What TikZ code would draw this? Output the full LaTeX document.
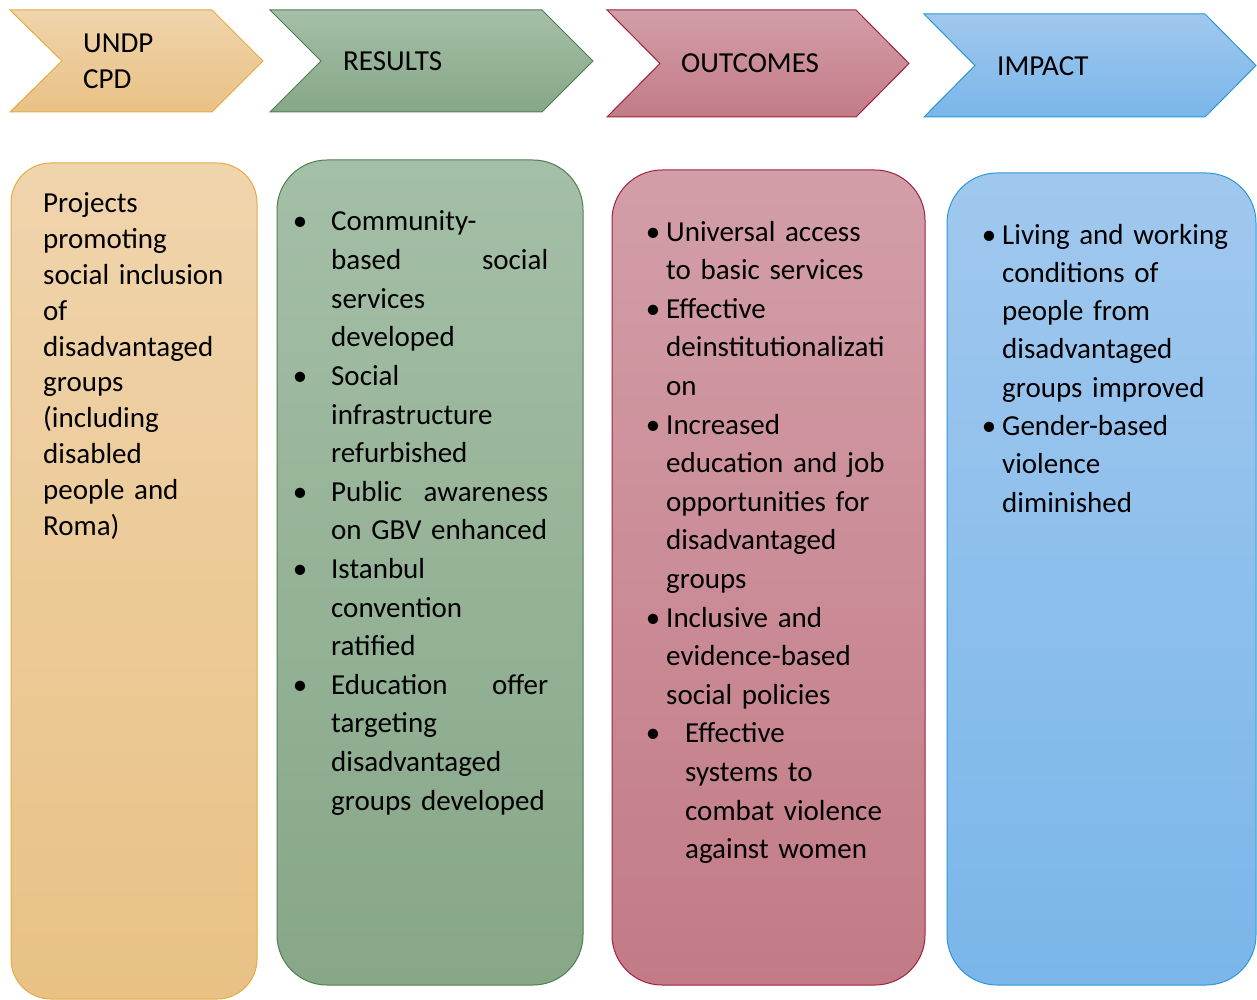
\documentclass[tikz,border=0pt]{standalone}
\usepackage{fontspec}
\setmainfont{Carlito}
\definecolor{orTop}{HTML}{F0D4AC}
\definecolor{orBot}{HTML}{E9C185}
\definecolor{orLine}{HTML}{E3AC45}
\definecolor{grTop}{HTML}{A4BFA7}
\definecolor{grBot}{HTML}{87A788}
\definecolor{grLine}{HTML}{4F7F4F}
\definecolor{pkTop}{HTML}{D39EA8}
\definecolor{pkBot}{HTML}{C27B86}
\definecolor{pkLine}{HTML}{A2213F}
\definecolor{blTop}{HTML}{A0C8EE}
\definecolor{blBot}{HTML}{7AB6EA}
\definecolor{blLine}{HTML}{2A98D6}
% bullet hung to the left of the line start, its centre #1 before the text
\newcommand\hungbullet[1]{\leavevmode\llap{\makebox[0pt][c]{\textbullet}\hspace{#1}}}
\tikzset{
  chevron/.style={line width=1pt},
  panel/.style={line width=1pt, rounded corners=#1},
  panel/.default=50pt,
  headtext/.style={anchor=base west, inner sep=0pt, align=left,
    font=\fontsize{29pt}{36pt}\selectfont},
  bodytext/.style={anchor=base west, inner sep=0pt, align=left,
    text width=#1, font=\fontsize{29pt}{38.6pt}\selectfont},
}
\begin{document}
\begin{tikzpicture}[x=1pt,y=-1pt]
\useasboundingbox (0,0) rectangle (1257,1000);

% ---- header chevrons ----
\path[chevron, draw=orLine, top color=orTop, bottom color=orBot]
  (10,10) -- (212,10) -- (263,61) -- (212,112) -- (10,112) -- (62,61) -- cycle;
\path[chevron, draw=grLine, top color=grTop, bottom color=grBot]
  (270,10) -- (542,10) -- (593,61) -- (542,112) -- (270,112) -- (321,61) -- cycle;
\path[chevron, draw=pkLine, top color=pkTop, bottom color=pkBot]
  (607,10) -- (856,10) -- (909,63.5) -- (856,117) -- (607,117) -- (660,63.5) -- cycle;
\path[chevron, draw=blLine, top color=blTop, bottom color=blBot]
  (924,14) -- (1205,14) -- (1256,65.5) -- (1205,117) -- (924,117) -- (975,65.5) -- cycle;

\node[headtext, text width=120pt] (hUndp) at (83,53) {UNDP\\CPD};
\node[headtext] (hResults) at (343,71) {RESULTS};
\node[headtext] (hOutcomes) at (681,73) {OUTCOMES};
\node[headtext] (hImpact) at (997,76) {IMPACT};

% ---- column panels ----
\path[panel=40pt, draw=orLine, top color=orTop, bottom color=orBot]
  (11,163) rectangle (257,999);
\path[panel, draw=grLine, top color=grTop, bottom color=grBot]
  (277,160) rectangle (583,985);
\path[panel, draw=pkLine, top color=pkTop, bottom color=pkBot]
  (612,170) rectangle (925,985);
\path[panel, draw=blLine, top color=blTop, bottom color=blBot]
  (947,173) rectangle (1256,985);

% ---- column texts ----
\node[bodytext=200pt, font=\fontsize{29pt}{35.8pt}\selectfont] (tCpd) at (43,213) {%
Projects\\
promoting\\
social inclusion\\
of\\
disadvantaged\\
groups\\
(including\\
disabled\\
people and\\
Roma)};

\node[bodytext=217pt] (tResults) at (331,231) {%
\hungbullet{31pt}Community-\\
based\hfill social\\
services\\
developed\\
\hungbullet{31pt}Social\\
infrastructure\\
refurbished\\
\hungbullet{31pt}Public\hfill awareness\\
on GBV enhanced\\
\hungbullet{31pt}Istanbul\\
convention\\
ratified\\
\hungbullet{31pt}Education\hfill offer\\
targeting\\
disadvantaged\\
groups developed};

\node[bodytext=240pt] (tOutcomes) at (666,241) {%
\hungbullet{13pt}Universal access\\
to basic services\\
\hungbullet{13pt}Effective\\
deinstitutionalizati\\
on\\
\hungbullet{13pt}Increased\\
education and job\\
opportunities for\\
disadvantaged\\
groups\\
\hungbullet{13pt}Inclusive and\\
evidence-based\\
social policies};
\node[bodytext=220pt] (tViolence) at (685,742.8) {%
\hungbullet{32pt}Effective\\
systems to\\
combat violence\\
against women};

\node[bodytext=240pt, font=\fontsize{29pt}{38.3pt}\selectfont] (tImpact) at (1002,244) {%
\hungbullet{13pt}Living and working\\
conditions of\\
people from\\
disadvantaged\\
groups improved\\
\hungbullet{13pt}Gender-based\\
violence\\
diminished};
\end{tikzpicture}
\end{document}
